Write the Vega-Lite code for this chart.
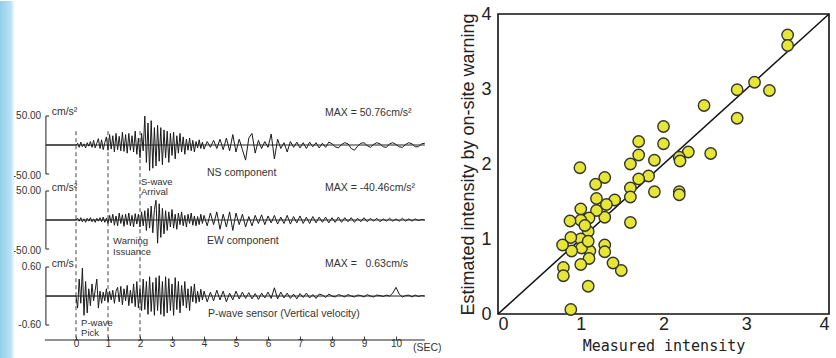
{
  "$schema": "https://vega.github.io/schema/vega-lite/v6.json",
  "padding": 0,
  "background": "white",
  "autosize": {"type": "pad"},
  "bounds": "flush",
  "spacing": 58,
  "config": {
    "view": {"stroke": null},
    "text": {"font": "Liberation Sans"},
    "axis": {"labelFont": "Liberation Sans", "titleFont": "Liberation Sans", "grid": false}
  },
  "datasets": {
    "wave": [
      {"t": -0.94, "ns": 0, "ew": 0, "pw": 0},
      {"t": 0.00, "ns": 0, "ew": 0, "pw": 0},
      {"t": 0.05, "ns": 3, "ew": 3, "pw": -0.25},
      {"t": 0.10, "ns": -4, "ew": -2, "pw": 0.35},
      {"t": 0.15, "ns": 5, "ew": 4, "pw": -0.15},
      {"t": 0.20, "ns": -3, "ew": -3, "pw": 0.58},
      {"t": 0.25, "ns": 2, "ew": 2, "pw": -0.40},
      {"t": 0.30, "ns": -5, "ew": -4, "pw": 0.30},
      {"t": 0.35, "ns": 4, "ew": 3, "pw": -0.35},
      {"t": 0.40, "ns": -2, "ew": -2, "pw": 0.15},
      {"t": 0.45, "ns": 6, "ew": 4, "pw": -0.20},
      {"t": 0.50, "ns": -4, "ew": -3, "pw": 0.25},
      {"t": 0.55, "ns": 8, "ew": 2, "pw": -0.10},
      {"t": 0.60, "ns": -5, "ew": -4, "pw": 0.12},
      {"t": 0.65, "ns": 3, "ew": 3, "pw": 0.35},
      {"t": 0.70, "ns": 11, "ew": -2, "pw": -0.25},
      {"t": 0.75, "ns": -6, "ew": 4, "pw": 0.10},
      {"t": 0.80, "ns": 9, "ew": -3, "pw": -0.15},
      {"t": 0.85, "ns": -8, "ew": 5, "pw": 0.08},
      {"t": 0.90, "ns": 4, "ew": -4, "pw": -0.10},
      {"t": 0.95, "ns": 14, "ew": 3, "pw": 0.15},
      {"t": 1.00, "ns": -9, "ew": -6, "pw": -0.12},
      {"t": 1.05, "ns": 18, "ew": 8, "pw": 0.10},
      {"t": 1.10, "ns": -7, "ew": -5, "pw": -0.08},
      {"t": 1.15, "ns": 16, "ew": 10, "pw": 0.12},
      {"t": 1.20, "ns": -12, "ew": -9, "pw": -0.15},
      {"t": 1.25, "ns": 20, "ew": 7, "pw": 0.10},
      {"t": 1.30, "ns": -8, "ew": -10, "pw": 0.18},
      {"t": 1.35, "ns": 15, "ew": 12, "pw": -0.12},
      {"t": 1.40, "ns": -10, "ew": -6, "pw": 0.20},
      {"t": 1.45, "ns": 22, "ew": 9, "pw": -0.18},
      {"t": 1.50, "ns": -11, "ew": -11, "pw": 0.15},
      {"t": 1.55, "ns": 18, "ew": 10, "pw": -0.10},
      {"t": 1.60, "ns": -14, "ew": -8, "pw": 0.22},
      {"t": 1.65, "ns": 20, "ew": 12, "pw": -0.20},
      {"t": 1.70, "ns": -9, "ew": -10, "pw": 0.12},
      {"t": 1.75, "ns": 16, "ew": 8, "pw": -0.15},
      {"t": 1.80, "ns": -12, "ew": -12, "pw": 0.25},
      {"t": 1.85, "ns": 24, "ew": 11, "pw": -0.22},
      {"t": 1.90, "ns": -16, "ew": -7, "pw": 0.30},
      {"t": 1.95, "ns": 12, "ew": 10, "pw": -0.25},
      {"t": 2.00, "ns": -22, "ew": -12, "pw": 0.15},
      {"t": 2.05, "ns": 20, "ew": 14, "pw": -0.30},
      {"t": 2.10, "ns": -10, "ew": -10, "pw": 0.35},
      {"t": 2.15, "ns": 50, "ew": 16, "pw": -0.28},
      {"t": 2.20, "ns": -30, "ew": -18, "pw": 0.30},
      {"t": 2.25, "ns": 38, "ew": 20, "pw": -0.38},
      {"t": 2.30, "ns": -44, "ew": -14, "pw": 0.40},
      {"t": 2.35, "ns": 42, "ew": 24, "pw": -0.32},
      {"t": 2.40, "ns": -40, "ew": -22, "pw": 0.28},
      {"t": 2.45, "ns": 30, "ew": 18, "pw": -0.40},
      {"t": 2.50, "ns": -36, "ew": 34, "pw": 0.38},
      {"t": 2.55, "ns": 34, "ew": -40, "pw": -0.30},
      {"t": 2.60, "ns": -28, "ew": 28, "pw": 0.42},
      {"t": 2.65, "ns": 30, "ew": -30, "pw": -0.38},
      {"t": 2.70, "ns": -34, "ew": 20, "pw": 0.30},
      {"t": 2.75, "ns": 26, "ew": -24, "pw": -0.42},
      {"t": 2.80, "ns": -22, "ew": 16, "pw": 0.40},
      {"t": 2.85, "ns": 24, "ew": -18, "pw": -0.35},
      {"t": 2.90, "ns": -30, "ew": 14, "pw": 0.36},
      {"t": 2.95, "ns": 20, "ew": -12, "pw": -0.30},
      {"t": 3.00, "ns": -18, "ew": 18, "pw": 0.25},
      {"t": 3.05, "ns": 22, "ew": -14, "pw": -0.40},
      {"t": 3.10, "ns": -24, "ew": 10, "pw": 0.38},
      {"t": 3.15, "ns": 16, "ew": -16, "pw": -0.28},
      {"t": 3.20, "ns": -14, "ew": 12, "pw": 0.30},
      {"t": 3.25, "ns": 20, "ew": -8, "pw": -0.35},
      {"t": 3.30, "ns": -12, "ew": 14, "pw": 0.22},
      {"t": 3.35, "ns": 14, "ew": -10, "pw": -0.20},
      {"t": 3.40, "ns": -16, "ew": 8, "pw": 0.30},
      {"t": 3.45, "ns": 10, "ew": -12, "pw": -0.25},
      {"t": 3.50, "ns": -9, "ew": 10, "pw": 0.15},
      {"t": 3.55, "ns": 12, "ew": -6, "pw": -0.30},
      {"t": 3.60, "ns": -10, "ew": 12, "pw": 0.20},
      {"t": 3.65, "ns": 8, "ew": -9, "pw": -0.12},
      {"t": 3.70, "ns": -12, "ew": 7, "pw": 0.25},
      {"t": 3.75, "ns": 6, "ew": -10, "pw": -0.15},
      {"t": 3.80, "ns": -5, "ew": 6, "pw": 0.10},
      {"t": 3.85, "ns": 9, "ew": -8, "pw": -0.12},
      {"t": 3.90, "ns": -6, "ew": 10, "pw": 0.14},
      {"t": 3.95, "ns": 5, "ew": -6, "pw": -0.08},
      {"t": 4.00, "ns": -7, "ew": 8, "pw": 0.10},
      {"t": 4.1, "ns": 6, "ew": -10, "pw": -0.12},
      {"t": 4.2, "ns": -4, "ew": 12, "pw": 0.08},
      {"t": 4.3, "ns": 8, "ew": -8, "pw": -0.10},
      {"t": 4.4, "ns": -6, "ew": 14, "pw": 0.12},
      {"t": 4.5, "ns": 10, "ew": -16, "pw": -0.08},
      {"t": 4.6, "ns": -8, "ew": 10, "pw": 0.10},
      {"t": 4.7, "ns": 12, "ew": -12, "pw": -0.12},
      {"t": 4.8, "ns": -10, "ew": 14, "pw": 0.06},
      {"t": 4.9, "ns": 18, "ew": -18, "pw": -0.08},
      {"t": 5.0, "ns": -12, "ew": 12, "pw": 0.10},
      {"t": 5.1, "ns": 10, "ew": -8, "pw": -0.06},
      {"t": 5.2, "ns": -8, "ew": 10, "pw": 0.08},
      {"t": 5.3, "ns": -26, "ew": -12, "pw": -0.05},
      {"t": 5.4, "ns": 12, "ew": 6, "pw": 0.07},
      {"t": 5.5, "ns": 20, "ew": -10, "pw": -0.06},
      {"t": 5.6, "ns": -14, "ew": 8, "pw": 0.05},
      {"t": 5.7, "ns": 8, "ew": -6, "pw": -0.07},
      {"t": 5.8, "ns": -6, "ew": 9, "pw": 0.06},
      {"t": 5.9, "ns": 6, "ew": -8, "pw": -0.04},
      {"t": 6.0, "ns": -4, "ew": 7, "pw": 0.08},
      {"t": 6.1, "ns": 19, "ew": -5, "pw": -0.05},
      {"t": 6.2, "ns": -24, "ew": 8, "pw": 0.17},
      {"t": 6.3, "ns": 10, "ew": -7, "pw": -0.06},
      {"t": 6.4, "ns": -6, "ew": 5, "pw": 0.08},
      {"t": 6.5, "ns": 4, "ew": -6, "pw": -0.04},
      {"t": 6.6, "ns": -12, "ew": 8, "pw": 0.06},
      {"t": 6.7, "ns": 6, "ew": -7, "pw": -0.05},
      {"t": 6.8, "ns": -4, "ew": 6, "pw": 0.04},
      {"t": 6.9, "ns": 5, "ew": -5, "pw": -0.06},
      {"t": 7.0, "ns": -5, "ew": 7, "pw": 0.05},
      {"t": 7.1, "ns": 4, "ew": -6, "pw": -0.03},
      {"t": 7.2, "ns": -6, "ew": 5, "pw": 0.06},
      {"t": 7.3, "ns": 5, "ew": -6, "pw": -0.04},
      {"t": 7.4, "ns": -3, "ew": 6, "pw": 0.03},
      {"t": 7.5, "ns": 4, "ew": -5, "pw": -0.05},
      {"t": 7.6, "ns": -5, "ew": 5, "pw": 0.04},
      {"t": 7.7, "ns": 3, "ew": -4, "pw": 0.02},
      {"t": 7.8, "ns": -4, "ew": 5, "pw": -0.03},
      {"t": 7.9, "ns": 5, "ew": -5, "pw": 0.04},
      {"t": 8.0, "ns": 2, "ew": 4, "pw": 0.00},
      {"t": 8.1, "ns": -3, "ew": -4, "pw": -0.02},
      {"t": 8.2, "ns": -5, "ew": 5, "pw": 0.03},
      {"t": 8.3, "ns": 1, "ew": -4, "pw": 0.01},
      {"t": 8.4, "ns": 4, "ew": 4, "pw": -0.02},
      {"t": 8.5, "ns": 2, "ew": -3, "pw": 0.03},
      {"t": 8.6, "ns": -6, "ew": 4, "pw": 0.00},
      {"t": 8.7, "ns": -9, "ew": -4, "pw": -0.02},
      {"t": 8.8, "ns": -2, "ew": 3, "pw": 0.02},
      {"t": 8.9, "ns": 3, "ew": -3, "pw": 0.01},
      {"t": 9.0, "ns": 4, "ew": 4, "pw": -0.02},
      {"t": 9.1, "ns": -1, "ew": -3, "pw": 0.03},
      {"t": 9.2, "ns": -4, "ew": 3, "pw": 0.00},
      {"t": 9.3, "ns": 1, "ew": -2, "pw": -0.02},
      {"t": 9.4, "ns": 4, "ew": 3, "pw": 0.02},
      {"t": 9.5, "ns": 2, "ew": -3, "pw": 0.01},
      {"t": 9.6, "ns": -3, "ew": 2, "pw": -0.01},
      {"t": 9.7, "ns": -4, "ew": -2, "pw": 0.02},
      {"t": 9.8, "ns": 2, "ew": 3, "pw": 0.00},
      {"t": 9.9, "ns": 4, "ew": -2, "pw": 0.06},
      {"t": 10.0, "ns": 1, "ew": 2, "pw": 0.18},
      {"t": 10.1, "ns": -3, "ew": -2, "pw": 0.04},
      {"t": 10.2, "ns": -4, "ew": 3, "pw": -0.02},
      {"t": 10.3, "ns": 1, "ew": -2, "pw": 0.01},
      {"t": 10.4, "ns": 4, "ew": 2, "pw": 0.02},
      {"t": 10.5, "ns": 2, "ew": -2, "pw": -0.02},
      {"t": 10.6, "ns": -3, "ew": 2, "pw": 0.02},
      {"t": 10.7, "ns": -3, "ew": -1, "pw": -0.01},
      {"t": 10.8, "ns": 2, "ew": 1, "pw": 0.01},
      {"t": 10.9, "ns": 3, "ew": 0, "pw": 0.00}
    ],
    "rules": [
      {"g": "ns", "t": -0.94, "t2": -0.94, "v": -50, "v2": 50},
      {"g": "ns", "t": -0.94, "t2": -0.84, "v": 50, "v2": 50},
      {"g": "ns", "t": -0.94, "t2": -0.84, "v": -50, "v2": -50},
      {"g": "ns", "t": -0.94, "t2": 10.9, "v": 0, "v2": 0},
      {"g": "ew", "t": -0.94, "t2": -0.94, "v": -50, "v2": 50},
      {"g": "ew", "t": -0.94, "t2": -0.84, "v": 50, "v2": 50},
      {"g": "ew", "t": -0.94, "t2": -0.84, "v": -50, "v2": -50},
      {"g": "ew", "t": -0.94, "t2": 10.9, "v": 0, "v2": 0},
      {"g": "pw", "t": -0.94, "t2": -0.94, "v": -0.6, "v2": 0.6},
      {"g": "pw", "t": -0.94, "t2": -0.84, "v": 0.6, "v2": 0.6},
      {"g": "pw", "t": -0.94, "t2": -0.84, "v": -0.6, "v2": -0.6},
      {"g": "pw", "t": -0.94, "t2": 10.9, "v": 0, "v2": 0},
      {"g": "pw", "t": -0.97, "t2": 10.9, "v": -0.91, "v2": -0.91}
    ],
    "notes": [
      {"g": "ns", "k": "scale", "t": -1.09, "v": 50, "txt": "50.00"},
      {"g": "ns", "k": "scale", "t": -1.09, "v": -53, "txt": "-50.00"},
      {"g": "ns", "k": "note", "t": -0.76, "v": 57, "txt": "cm/s²"},
      {"g": "ns", "k": "note", "t": 7.78, "v": 55, "txt": "MAX = 50.76cm/s²"},
      {"g": "ns", "k": "note", "t": 4.09, "v": -48, "txt": "NS component"},
      {"g": "ns", "k": "small", "t": 2.03, "v": -63, "txt": "S-wave"},
      {"g": "ns", "k": "small", "t": 2.03, "v": -81, "txt": "Arrival"},
      {"g": "ew", "k": "scale", "t": -1.09, "v": 50, "txt": "50.00"},
      {"g": "ew", "k": "scale", "t": -1.09, "v": -53, "txt": "-50.00"},
      {"g": "ew", "k": "note", "t": -0.76, "v": 55, "txt": "cm/s²"},
      {"g": "ew", "k": "note", "t": 7.78, "v": 55, "txt": "MAX = -40.46cm/s²"},
      {"g": "ew", "k": "note", "t": 4.09, "v": -36, "txt": "EW component"},
      {"g": "ew", "k": "small", "t": 1.16, "v": -37, "txt": "Warning"},
      {"g": "ew", "k": "small", "t": 1.16, "v": -55, "txt": "Issuance"},
      {"g": "pw", "k": "scale", "t": -1.09, "v": 0.6, "txt": "0.60"},
      {"g": "pw", "k": "scale", "t": -1.09, "v": -0.6, "txt": "-0.60"},
      {"g": "pw", "k": "note", "t": -0.76, "v": 0.67, "txt": "cm/s"},
      {"g": "pw", "k": "note", "t": 7.78, "v": 0.66, "txt": "MAX =  \u00a0 0.63cm/s"},
      {"g": "pw", "k": "note", "t": 4.125, "v": -0.37, "txt": "P-wave sensor (Vertical velocity)"},
      {"g": "pw", "k": "small", "t": 0.16, "v": -0.555, "txt": "P-wave"},
      {"g": "pw", "k": "small", "t": 0.16, "v": -0.77, "txt": "Pick"},
      {"g": "pw", "k": "note", "t": 10.53, "v": -1.076, "txt": "(SEC)"}
    ]
  },
  "hconcat": [
    {
      "width": 440,
      "height": 326,
      "encoding": {
        "x": {
          "field": "t",
          "type": "quantitative",
          "scale": {"domain": [-2.375, 11.375], "nice": false, "zero": false},
          "axis": {
            "values": [0, 1, 2, 3, 4, 5, 6, 7, 8, 9, 10],
            "domain": false,
            "tickSize": -4,
            "tickColor": "#444",
            "labelFontSize": 10,
            "labelColor": "#333",
            "labelPadding": 2,
            "title": null
          }
        }
      },
      "layer": [
        {
          "encoding": {
            "y": {"field": "v", "type": "quantitative", "scale": {"domain": [-336.2, 225.9], "nice": false, "zero": false}, "axis": null}
          },
          "layer": [
            {
              "data": {"name": "wave"},
              "mark": {"type": "line", "color": "#1a1a1a", "strokeWidth": 1},
              "encoding": {
                "y": {"field": "ns", "type": "quantitative", "scale": {"domain": [-336.2, 225.9], "nice": false, "zero": false}, "axis": null}
              }
            },
            {
              "data": {"name": "rules"},
              "transform": [{"filter": "datum.g === 'ns'"}],
              "mark": {"type": "rule", "color": "#222", "strokeWidth": 1},
              "encoding": {"x2": {"field": "t2"}, "y2": {"field": "v2"}}
            },
            {
              "data": {"name": "notes"},
              "transform": [{"filter": "datum.g === 'ns' && datum.k === 'scale'"}],
              "mark": {"type": "text", "align": "right", "baseline": "middle", "fontSize": 10, "color": "#333"},
              "encoding": {"text": {"field": "txt"}}
            },
            {
              "data": {"name": "notes"},
              "transform": [{"filter": "datum.g === 'ns' && datum.k === 'note'"}],
              "mark": {"type": "text", "align": "left", "baseline": "middle", "fontSize": 10.5, "color": "#333"},
              "encoding": {"text": {"field": "txt"}}
            },
            {
              "data": {"name": "notes"},
              "transform": [{"filter": "datum.g === 'ns' && datum.k === 'small'"}],
              "mark": {"type": "text", "align": "left", "baseline": "middle", "fontSize": 9.5, "color": "#333"},
              "encoding": {"text": {"field": "txt"}}
            }
          ]
        },
        {
          "encoding": {
            "y": {"field": "v", "type": "quantitative", "scale": {"domain": [-206.9, 355.2], "nice": false, "zero": false}, "axis": null}
          },
          "layer": [
            {
              "data": {"name": "wave"},
              "mark": {"type": "line", "color": "#1a1a1a", "strokeWidth": 1},
              "encoding": {
                "y": {"field": "ew", "type": "quantitative", "scale": {"domain": [-206.9, 355.2], "nice": false, "zero": false}, "axis": null}
              }
            },
            {
              "data": {"name": "rules"},
              "transform": [{"filter": "datum.g === 'ew'"}],
              "mark": {"type": "rule", "color": "#222", "strokeWidth": 1},
              "encoding": {"x2": {"field": "t2"}, "y2": {"field": "v2"}}
            },
            {
              "data": {"name": "notes"},
              "transform": [{"filter": "datum.g === 'ew' && datum.k === 'scale'"}],
              "mark": {"type": "text", "align": "right", "baseline": "middle", "fontSize": 10, "color": "#333"},
              "encoding": {"text": {"field": "txt"}}
            },
            {
              "data": {"name": "notes"},
              "transform": [{"filter": "datum.g === 'ew' && datum.k === 'note'"}],
              "mark": {"type": "text", "align": "left", "baseline": "middle", "fontSize": 10.5, "color": "#333"},
              "encoding": {"text": {"field": "txt"}}
            },
            {
              "data": {"name": "notes"},
              "transform": [{"filter": "datum.g === 'ew' && datum.k === 'small'"}],
              "mark": {"type": "text", "align": "left", "baseline": "middle", "fontSize": 9.5, "color": "#333"},
              "encoding": {"text": {"field": "txt"}}
            }
          ]
        },
        {
          "encoding": {
            "y": {"field": "v", "type": "quantitative", "scale": {"domain": [-0.91, 5.835], "nice": false, "zero": false}, "axis": null}
          },
          "layer": [
            {
              "data": {"values": [{"t": -2.375, "t2": -1.94, "v": 6.104, "v2": -1.30}]},
              "mark": {
                "type": "rect",
                "fill": {
                  "gradient": "linear", "x1": 0, "x2": 1, "y1": 0, "y2": 0,
                  "stops": [
                    {"offset": 0, "color": "#92cfe9"},
                    {"offset": 0.75, "color": "#b8e1f3"},
                    {"offset": 1, "color": "#e8f5fb"}
                  ]
                }
              },
              "encoding": {"x2": {"field": "t2"}, "y2": {"field": "v2"}}
            },
            {
              "data": {"values": [{"t": 0, "v": 3.41, "v2": -0.91}, {"t": 1, "v": 3.41, "v2": -0.91}, {"t": 2, "v": 3.41, "v2": -0.91}]},
              "mark": {"type": "rule", "color": "#444", "strokeWidth": 1, "strokeDash": [4, 3]},
              "encoding": {"y2": {"field": "v2"}}
            },
            {
              "data": {"name": "wave"},
              "mark": {"type": "line", "color": "#1a1a1a", "strokeWidth": 1},
              "encoding": {
                "y": {"field": "pw", "type": "quantitative", "scale": {"domain": [-0.91, 5.835], "nice": false, "zero": false}, "axis": null}
              }
            },
            {
              "data": {"name": "rules"},
              "transform": [{"filter": "datum.g === 'pw'"}],
              "mark": {"type": "rule", "color": "#222", "strokeWidth": 1},
              "encoding": {"x2": {"field": "t2"}, "y2": {"field": "v2"}}
            },
            {
              "data": {"name": "notes"},
              "transform": [{"filter": "datum.g === 'pw' && datum.k === 'scale'"}],
              "mark": {"type": "text", "align": "right", "baseline": "middle", "fontSize": 10, "color": "#333"},
              "encoding": {"text": {"field": "txt"}}
            },
            {
              "data": {"name": "notes"},
              "transform": [{"filter": "datum.g === 'pw' && datum.k === 'note'"}],
              "mark": {"type": "text", "align": "left", "baseline": "middle", "fontSize": 10.5, "color": "#333"},
              "encoding": {"text": {"field": "txt"}}
            },
            {
              "data": {"name": "notes"},
              "transform": [{"filter": "datum.g === 'pw' && datum.k === 'small'"}],
              "mark": {"type": "text", "align": "left", "baseline": "middle", "fontSize": 9.5, "color": "#333"},
              "encoding": {"text": {"field": "txt"}}
            }
          ]
        }
      ],
      "resolve": {"scale": {"y": "independent"}}
    },
    {
      "width": 331,
      "height": 300,
      "view": {"stroke": "#111", "strokeWidth": 1.6},
      "encoding": {
        "x": {
          "field": "x",
          "type": "quantitative",
          "scale": {"domain": [0, 4], "nice": false},
          "axis": {
            "values": [0, 1, 2, 3, 4],
            "ticks": false,
            "domain": false,
            "labelFontSize": 18,
            "labelColor": "#222",
            "labelPadding": 1,
            "title": "Measured intensity",
            "titleFont": "DejaVu Sans Mono",
            "titleFontSize": 15,
            "titleFontWeight": "normal",
            "titleColor": "#222",
            "titlePadding": 5
          }
        },
        "y": {
          "field": "y",
          "type": "quantitative",
          "scale": {"domain": [0, 4], "nice": false},
          "axis": {
            "values": [0, 1, 2, 3, 4],
            "ticks": false,
            "domain": false,
            "labelFontSize": 18,
            "labelColor": "#222",
            "labelPadding": 7,
            "title": "Estimated intensity by on-site warning",
            "titleFontSize": 18,
            "titleFontWeight": "normal",
            "titleColor": "#222",
            "titlePadding": 3
          }
        }
      },
      "layer": [
        {
          "data": {"values": [{"x": 0, "y": 0}, {"x": 4, "y": 4}]},
          "mark": {"type": "line", "color": "#111", "strokeWidth": 1.5}
        },
        {
          "data": {
            "values": [
              {"x": 3.50, "y": 3.72}, {"x": 3.50, "y": 3.58}, {"x": 3.10, "y": 3.09}, {"x": 3.28, "y": 2.98},
              {"x": 2.89, "y": 2.99}, {"x": 2.89, "y": 2.61}, {"x": 2.49, "y": 2.78}, {"x": 2.57, "y": 2.14},
              {"x": 2.30, "y": 2.16}, {"x": 2.19, "y": 2.09}, {"x": 2.20, "y": 2.04}, {"x": 2.19, "y": 1.63},
              {"x": 2.19, "y": 1.59}, {"x": 2.00, "y": 2.50}, {"x": 2.00, "y": 2.27}, {"x": 1.89, "y": 2.05},
              {"x": 1.89, "y": 1.63}, {"x": 1.82, "y": 1.84}, {"x": 1.70, "y": 2.30}, {"x": 1.70, "y": 2.12},
              {"x": 1.70, "y": 1.80}, {"x": 1.60, "y": 2.00}, {"x": 1.60, "y": 1.68}, {"x": 1.60, "y": 1.56},
              {"x": 1.60, "y": 1.22}, {"x": 1.49, "y": 0.58}, {"x": 1.39, "y": 0.68}, {"x": 1.41, "y": 1.52},
              {"x": 1.29, "y": 1.82}, {"x": 1.31, "y": 1.46}, {"x": 1.29, "y": 1.29}, {"x": 1.29, "y": 0.92},
              {"x": 1.29, "y": 0.83}, {"x": 1.18, "y": 1.73}, {"x": 1.19, "y": 1.54}, {"x": 1.19, "y": 1.38},
              {"x": 1.10, "y": 1.28}, {"x": 1.09, "y": 1.10}, {"x": 1.11, "y": 0.84}, {"x": 1.10, "y": 0.74},
              {"x": 1.09, "y": 0.37}, {"x": 0.99, "y": 1.95}, {"x": 1.00, "y": 1.40}, {"x": 1.00, "y": 1.25},
              {"x": 1.00, "y": 1.00}, {"x": 1.01, "y": 0.88}, {"x": 1.00, "y": 0.66}, {"x": 0.87, "y": 1.24},
              {"x": 0.88, "y": 1.02}, {"x": 0.89, "y": 0.84}, {"x": 0.88, "y": 0.06}, {"x": 0.78, "y": 0.92},
              {"x": 0.79, "y": 0.62}, {"x": 0.79, "y": 0.51}, {"x": 1.09, "y": 0.97}, {"x": 1.05, "y": 1.18}
            ]
          },
          "mark": {"type": "circle", "size": 130, "fill": "#e6e636", "stroke": "#333", "strokeWidth": 1.4, "opacity": 1}
        }
      ]
    }
  ]
}
